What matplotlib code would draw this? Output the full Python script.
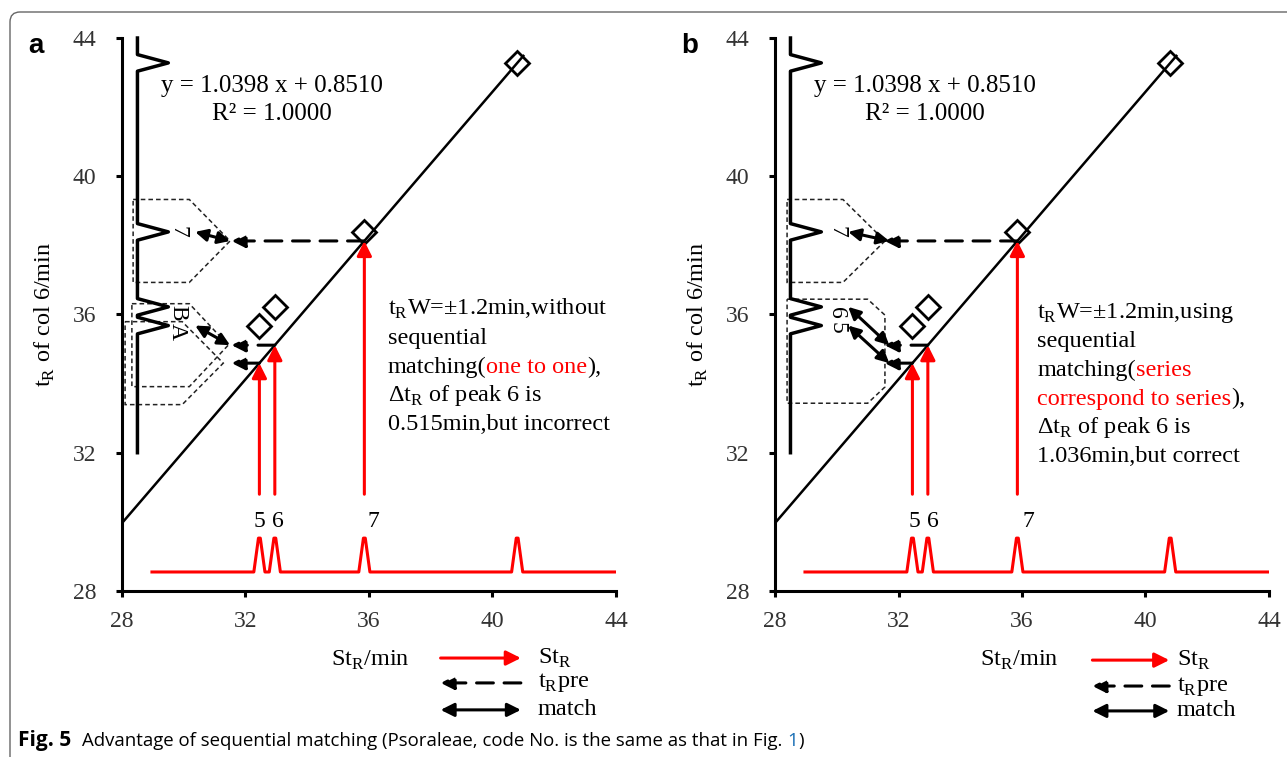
"""Fig. 5 - advantage of sequential matching (two panels, a and b)."""

import matplotlib

matplotlib.use("Agg")
import matplotlib.pyplot as plt
from matplotlib.patches import FancyBboxPatch, Polygon
from matplotlib.transforms import offset_copy

plt.rcParams.update({
    "font.family": "serif",
    "font.serif": ["Liberation Serif", "DejaVu Serif"],
    "font.size": 17,
    "axes.linewidth": 2.2,
})

# ---- data ----
SLOPE, INTERCEPT = 1.0398, 0.8510
WINDOW = 1.2
std_tr = [32.45, 32.95, 35.85, 40.80]      # St_R of the standard peaks (red trace)
col6_tr = [35.68, 36.22, 38.39, 43.28]     # t_R on col 6 (diamonds, black trace)
red_names = ["5", "6", "7"]
ticks = [28, 32, 36, 40, 44]

label_a = ["7", "B", "A"]
label_b = ["7", "6", "5"]
label_y_a = [38.39, 36.05, 35.50]
label_y_b = [38.40, 36.05, 35.60]
red_label_x_a = [32.45, 33.06, 36.15]
red_label_x_b = [32.50, 33.12, 36.20]

text_a = [
    [(r"t$_\mathregular{R}$W=±1.2min,without", "black")],
    [("sequential", "black")],
    [("matching(", "black"), ("one to one", "red"), ("),", "black")],
    [(r"Δt$_\mathregular{R}$ of peak 6 is", "black")],
    [("0.515min,but incorrect", "black")],
]
text_b = [
    [(r"t$_\mathregular{R}$W=±1.2min,using", "black")],
    [("sequential", "black")],
    [("matching(", "black"), ("series", "red")],
    [("correspond to series", "red"), ("),", "black")],
    [(r"Δt$_\mathregular{R}$ of peak 6 is", "black")],
    [("1.036min,but correct", "black")],
]

pred = [SLOPE * s + INTERCEPT for s in std_tr[:3]]   # predicted t_R of 5, 6, 7

fig = plt.figure(figsize=(12.87, 7.57), dpi=100)
renderer = fig.canvas.get_renderer()


def runs(host, x, y, parts, transform, **kw):
    """Draw text pieces one after another on a shared baseline.

    Each part is (text, color) or (text, color, gap_after_pt, extra_kw).
    """
    dx = 0.0
    for part in parts:
        text, color = part[0], part[1]
        gap = part[2] if len(part) > 2 else 0.0
        extra = dict(kw, **(part[3] if len(part) > 3 else {}))
        trans = offset_copy(transform, fig=fig, x=dx, y=0, units="points")
        t = host.text(x, y, text, color=color, transform=trans,
                      ha="left", va="baseline", **extra)
        dx += t.get_window_extent(renderer).width * 72 / fig.dpi + gap


def arrow(ax, start, end, style="-|>", color="black", ls="-", lw=2.2, ms=20):
    ax.annotate("", xy=end, xytext=start, annotation_clip=False,
                arrowprops=dict(arrowstyle=style, color=color, lw=lw, ls=ls,
                                mutation_scale=ms, shrinkA=0, shrinkB=0))


def black_trace(base):
    xs, ys = [base], [44.0]
    for c in sorted(col6_tr, reverse=True):
        xs += [base, base + 1.0, base]
        ys += [c + 0.24, c, c - 0.24]
    xs.append(base)
    ys.append(32.0)
    return xs, ys


def red_trace():
    xs, ys = [28.97], [28.55]
    for c in std_tr:
        xs += [c - 0.18, c - 0.03, c + 0.03, c + 0.18]
        ys += [28.55, 29.53, 29.53, 28.55]
    xs.append(44.05)
    ys.append(28.55)
    return xs, ys


def dashed_box(ax, pts):
    ax.add_patch(Polygon(pts, closed=True, fill=False, ec="#222", lw=1.1,
                         ls=(0, (3, 2)), zorder=1))


DASH = (0, (5.5, 3.5))


def panel(left, letter, labels, label_y, label_x, red_x, boxes, matches,
          text, text_xy, legend, xlabel_x):
    ax = fig.add_axes([left, 0.2193, 0.3838, 0.7305])
    ax.set_xlim(28, 44)
    ax.set_ylim(28, 44)
    for side in ("top", "right"):
        ax.spines[side].set_visible(False)
    ax.set_xticks(ticks)
    ax.set_yticks(ticks)
    ax.tick_params(axis="both", direction="out", length=4.5, width=2.2,
                   labelsize=17, labelcolor="#333")
    ax.tick_params(axis="y", pad=14)
    ax.tick_params(axis="x", pad=10)

    # regression line and diamonds
    ax.plot([28, 41.0], [SLOPE * 28 + INTERCEPT, SLOPE * 41.0 + INTERCEPT],
            color="black", lw=1.8)
    ax.plot(std_tr, col6_tr, ls="none", marker="D", ms=12, mfc="none",
            mec="black", mew=2.0, clip_on=False)

    # chromatograms
    bx, by = black_trace(28.5)
    ax.plot(bx, by, color="black", lw=2.5, clip_on=False)
    rx, ry = red_trace()
    ax.plot(rx, ry, color="red", lw=2.2)
    for name, x in zip(red_names, red_x):
        ax.text(x, 29.85, name, ha="center", va="baseline", fontsize=17)

    for pts in boxes:
        dashed_box(ax, pts)

    # arrows: St_R -> line, predicted t_R back to the trace, matches
    for s, p in zip(std_tr[:3], pred):
        arrow(ax, (s, 30.8), (s, p), color="red", ms=22)
        arrow(ax, (s, p), (31.55, p), ls=DASH, ms=20)
    for y0, p in matches:
        arrow(ax, (30.37, y0), (label_x + 1.7, p), style="<|-|>", ms=18)

    for name, y in zip(labels, label_y):
        ax.text(label_x, y, name, rotation=-90, ha="center", va="center",
                fontsize=17)

    ax.text(32.85, 42.44, "y = 1.0398 x + 0.8510", ha="center",
            va="baseline", fontsize=18)
    ax.text(32.85, 41.63, "R² = 1.0000", ha="center", va="baseline",
            fontsize=18)

    tx, ty = text_xy
    for i, parts in enumerate(text):
        runs(ax, tx, ty - i * 0.835, parts, ax.transData, fontsize=17.5)

    ax.text(-0.156, 0.5, r"t$_\mathregular{R}$ of col 6/min", rotation=90,
            ha="center", va="center", transform=ax.transAxes, fontsize=17.5)
    ax.text(xlabel_x, 26.0, r"St$_\mathregular{R}$/min", ha="center",
            va="center", fontsize=17.5)

    (x0, x1, lx), rows = legend
    arrow(ax, (x0, rows[0]), (x1, rows[0]), color="red", ms=22)
    arrow(ax, (x1, rows[1]), (x0, rows[1]), ls=DASH, ms=20)
    arrow(ax, (x0, rows[2]), (x1, rows[2]), style="<|-|>", ms=20)
    for y, s in zip(rows, [r"St$_\mathregular{R}$", r"t$_\mathregular{R}$pre",
                           "match"]):
        ax.text(lx, y, s, ha="left", va="center", fontsize=17.5)

    ax.text(-0.19, 0.985, letter, transform=ax.transAxes, ha="left",
            va="center", fontsize=20, fontweight="bold",
            family="Liberation Sans")
    return ax


p5, p6, p7 = pred
boxes_a = [
    [(28.36, p7 + WINDOW), (30.18, p7 + WINDOW), (31.5, p7),
     (30.18, p7 - WINDOW), (28.36, p7 - WINDOW)],
    [(28.32, p6 + WINDOW), (30.18, p6 + WINDOW), (31.44, p6),
     (30.18, p6 - WINDOW), (28.32, p6 - WINDOW)],
    [(28.10, p5 + WINDOW), (29.95, p5 + WINDOW), (31.28, p5),
     (29.95, p5 - WINDOW), (28.10, p5 - WINDOW)],
]
boxes_b = [
    [(28.39, p7 + WINDOW), (30.2, p7 + WINDOW), (31.56, p7),
     (30.2, p7 - WINDOW), (28.39, p7 - WINDOW)],
    [(28.39, p6 + 1.33), (31.0, p6 + 1.33), (31.56, p6 + 0.87),
     (31.56, p5 - 0.69), (31.0, p5 - 1.16), (28.39, p5 - 1.16)],
]

panel(0.0948, "a", label_a, label_y_a, 29.8, red_label_x_a, boxes_a,
      [(col6_tr[2], p7), (col6_tr[0], p6)],
      text_a, (36.6, 35.99),
      ((38.32, 40.92, 41.47), [26.06, 25.34, 24.56]), 36.05)
panel(0.6022, "b", label_b, label_y_b, 30.0, red_label_x_b, boxes_b,
      [(col6_tr[2], p7), (col6_tr[1], p6), (col6_tr[0], p5)],
      text_b, (36.5, 35.90),
      ((38.28, 40.77, 41.02), [26.0, 25.25, 24.53]), 35.92)

# outer frame with a rounded corner, open to the right and bottom
fig.add_artist(FancyBboxPatch((0.10, -1.0), 15.0, 8.45,
                              boxstyle="round,pad=0,rounding_size=0.1",
                              transform=fig.dpi_scale_trans, fill=False,
                              ec="#666", lw=1.0))

runs(fig, 0.014, 0.0145,
     [("Fig. 5", "black", 8.0, {"fontsize": 15, "fontweight": "bold"}),
      ("Advantage of sequential matching (Psoraleae, code No. is the same"
       " as that in Fig.", "black", 3.5),
      ("1", "#1a6fb5"),
      (")", "black")],
     fig.transFigure, fontsize=13.4, family="Open Sans")
fig.savefig("out.png", dpi=100)
